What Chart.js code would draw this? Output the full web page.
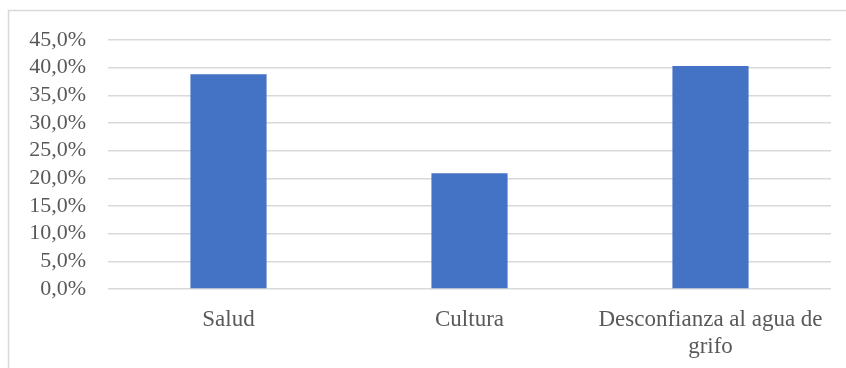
<!DOCTYPE html>
<html>
<head>
<meta charset="utf-8">
<script src="https://cdn.jsdelivr.net/npm/chart.js@4/dist/chart.umd.min.js"></script>
<style>
  html, body { margin: 0; padding: 0; background: #ffffff; }
  canvas { display: block; }
</style>
</head>
<body>
<canvas id="chart" width="846" height="368"></canvas>
<script>
// Motivos (porcentaje de respuestas)
const categories = ['Salud', 'Cultura', ['Desconfianza al agua de', 'grifo']];
const percentages = [38.8, 20.9, 40.3];
const yTicks = [0, 5, 10, 15, 20, 25, 30, 35, 40, 45];

const textColor = '#595959';
const gridColor = '#d9d9d9';
const fontFamily = '"Liberation Serif", "Times New Roman", serif';

// Thin frame around the chart, open on the right and bottom edges
const framePlugin = {
  id: 'frame',
  beforeDraw(chart) {
    const ctx = chart.ctx;
    ctx.save();
    ctx.fillStyle = '#ffffff';
    ctx.fillRect(0, 0, chart.width, chart.height);
    ctx.strokeStyle = gridColor;
    ctx.lineWidth = 1.5;
    ctx.beginPath();
    ctx.moveTo(8.5, chart.height + 2);
    ctx.lineTo(8.5, 10.5);
    ctx.lineTo(chart.width + 2, 10.5);
    ctx.stroke();
    ctx.restore();
  }
};

new Chart(document.getElementById('chart'), {
  type: 'bar',
  data: {
    labels: categories,
    datasets: [{
      data: percentages,
      backgroundColor: '#4472C4',
      borderWidth: 0,
      categoryPercentage: 0.316,
      barPercentage: 1.0
    }]
  },
  options: {
    responsive: false,
    animation: false,
    layout: { padding: { top: 40, right: 15, left: 0, bottom: 0 } },
    plugins: {
      legend: { display: false },
      tooltip: { enabled: false }
    },
    scales: {
      x: {
        grid: { display: false, drawTicks: false },
        border: { display: false },
        ticks: {
          color: textColor,
          font: { family: fontFamily, size: 23 },
          padding: 17,
          maxRotation: 0,
          autoSkip: false
        },
        afterFit(scale) { scale.height = 79; }
      },
      y: {
        min: 0,
        max: 45,
        afterBuildTicks(scale) { scale.ticks = yTicks.map(v => ({ value: v })); },
        grid: { color: gridColor, lineWidth: 1.5, drawTicks: false },
        border: { display: false },
        ticks: {
          color: textColor,
          font: { family: fontFamily, size: 22 },
          padding: 22,
          autoSkip: false,
          callback: v => v.toFixed(1).replace('.', ',') + '%'
        },
        afterFit(scale) { scale.width = 108; }
      }
    }
  },
  plugins: [framePlugin]
});
</script>
</body>
</html>
